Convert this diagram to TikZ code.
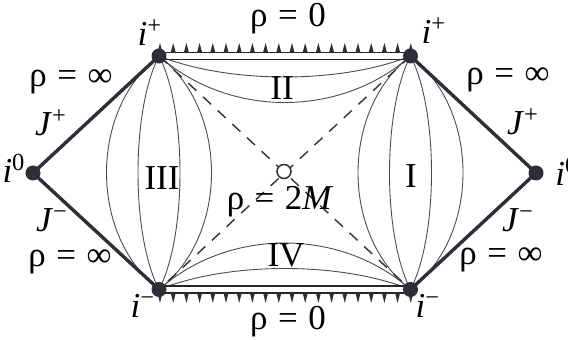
\documentclass[tikz,border=0pt]{standalone}
\usepackage{fontspec}
\setmainfont{Liberation Serif}
\usetikzlibrary{calc}

\definecolor{dotgray}{RGB}{44,47,55}
\newcommand{\eqsp}{\hspace{0.3em}=\hspace{0.3em}}

\begin{document}
\begin{tikzpicture}[x=0.5pt, y=-0.5pt, font=\fontsize{17.5}{20}\selectfont,
    dot/.style={circle, fill=dotgray, inner sep=0pt, minimum size=7.5pt},
    horizon/.style={dash pattern=on 5.5pt off 4.5pt, line width=0.7pt, black!80},
    orbit/.style={line width=0.45pt, black!70},
    scri/.style={line width=1.7pt, dotgray},
    wall/.style={line width=0.6pt, black!85},
    lbl/.style={anchor=base, inner sep=0pt}]
    \useasboundingbox (0,0) rectangle (568,340);

    \coordinate (tl) at (159,56);
    \coordinate (tr) at (410.5,56);
    \coordinate (bl) at (159,289.5);
    \coordinate (br) at (410.5,289.5);
    \coordinate (lf) at (33,173);
    \coordinate (rt) at (536,173);
    \coordinate (ctr) at (284,171.5);

    % region III and region I
    \foreach \a in {-70,-28,28,70} {
      \draw[orbit] (tl) .. controls +(\a,54) and +(\a,-54) .. (bl);
      \draw[orbit] (tr) .. controls +(\a,54) and +(\a,-54) .. (br);
    }
    % region II and region IV
    \foreach \b in {28,62} {
      \draw[orbit] (tl) .. controls +(70,\b) and +(-70,\b) .. (tr);
      \draw[orbit] (bl) .. controls +(70,-\b) and +(-70,-\b) .. (br);
    }
    \draw[wall] ($(tl)+(0,3.5)$) -- ($(tr)+(0,3.5)$);
    \draw[wall] ($(bl)+(0,-3.5)$) -- ($(br)+(0,-3.5)$);

    % singularities
    \draw[wall] ($(tl)+(0,-3.5)$) -- ($(tr)+(0,-3.5)$);
    \draw[wall] ($(bl)+(0,3.5)$) -- ($(br)+(0,3.5)$);
    \foreach \k in {0,...,19} {
      \fill[dotgray] (160+\k*13.2-2.5,52.5) -- (160+\k*13.2,43) -- (160+\k*13.2+2.5,52.5) -- cycle;
      \fill[dotgray] (160+\k*13.2-2.5,293) -- (160+\k*13.2,303) -- (160+\k*13.2+2.5,293) -- cycle;
    }

    % horizons
    \draw[horizon] (tl) -- (br);
    \draw[horizon] (tr) -- (bl);
    \node[circle, draw=dotgray, fill=white, line width=0.75pt, inner sep=0pt, minimum size=7pt] (bif) at (ctr) {};

    % null infinity
    \draw[scri] (lf) -- (tl);
    \draw[scri] (lf) -- (bl);
    \draw[scri] (tr) -- (rt);
    \draw[scri] (br) -- (rt);

    \node[dot] (tldot) at (tl) {};
    \node[dot] (trdot) at (tr) {};
    \node[dot] (bldot) at (bl) {};
    \node[dot] (brdot) at (br) {};
    \node[dot] (lfdot) at (lf) {};
    \node[dot] (rtdot) at (rt) {};

    \node[lbl] (ipTL) at (150,46) {\textit{i}\textsuperscript{+}};
    \node[lbl] (ipTR) at (434,44) {\textit{i}\textsuperscript{+}};
    \node[lbl] (rhoT) at (288,27) {ρ\eqsp0};
    \node[lbl] (infTL) at (71,87) {ρ\eqsp∞};
    \node[lbl] (infTR) at (508,85) {ρ\eqsp∞};
    \node[lbl] (JpL) at (51,136) {\textit{J}\textsuperscript{+}};
    \node[lbl] (JpR) at (523,135) {\textit{J}\textsuperscript{+}};
    \node[lbl] (i0L) at (14,183) {\textit{i}\textsuperscript{0}};
    \node[lbl, anchor=base west] (i0R) at (555,186) {\textit{i}\textsuperscript{0}};
    \node[lbl] (JmL) at (52,232) {\textit{J}\textsuperscript{−}};
    \node[lbl] (JmR) at (518,232) {\textit{J}\textsuperscript{−}};
    \node[lbl] (infBL) at (70,267) {ρ\eqsp∞};
    \node[lbl] (infBR) at (501,265) {ρ\eqsp∞};
    \node[lbl] (imBL) at (143,318) {\textit{i}\textsuperscript{−}};
    \node[lbl] (imBR) at (428,318) {\textit{i}\textsuperscript{−}};
    \node[lbl] (rhoB) at (288,330) {ρ\eqsp0};

    \node[lbl] (regII) at (282,100) {II};
    \node[lbl] (regIII) at (162,190) {III};
    \node[lbl] (regI) at (411,188) {I};
    \node[lbl] (regIV) at (286,267) {IV};
    \node[lbl] (rhoM) at (280,210) {ρ\eqsp2\textit{M}};
\end{tikzpicture}
\end{document}
